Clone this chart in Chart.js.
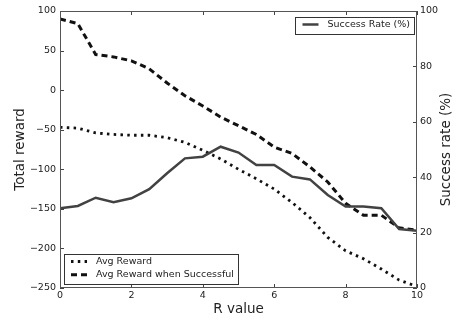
<!DOCTYPE html>
<html>
<head>
<meta charset="utf-8">
<script src="https://cdn.jsdelivr.net/npm/chart.js@4"></script>
<style>
  html, body { margin: 0; padding: 0; background: #fff; }
  #wrap { width: 454px; height: 320px; }
</style>
</head>
<body>
<div id="wrap"><canvas id="myChart" width="454" height="320"></canvas></div>
<script>
// values
const rValues = [0, 0.5, 1, 1.5, 2, 2.5, 3, 3.5, 4, 4.5, 5, 5.5, 6, 6.5, 7, 7.5, 8, 8.5, 9, 9.5, 10];
const avgReward = [-47, -48, -54, -56, -57, -57, -60, -66, -76, -87, -100, -112, -125, -142, -161, -186, -203, -213, -226, -240, -248];
const avgRewardSuccess = [90, 84, 45, 42, 37, 27, 9, -7, -20, -34, -45, -56, -72, -80, -97, -116, -143, -158, -158, -174, -177];
const successRate = [28.8, 29.6, 32.6, 31, 32.4, 35.7, 41.4, 46.8, 47.4, 51, 48.9, 44.4, 44.4, 40.2, 39.2, 33.6, 29.4, 29.4, 28.8, 21.3, 20.7];

const xTicks = [0, 2, 4, 6, 8, 10];
const rewardTicks = [-250, -200, -150, -100, -50, 0, 50, 100];
const rateTicks = [0, 20, 40, 60, 80, 100];
const rateTitle = "Success rate (%)";

const FONT = "'DejaVu Sans', sans-serif";
const TXT = "#222";
const SMALL = 9.5;
const BIG = 13.5;

function toPoints(ys) {
  return rValues.map((x, i) => ({ x: x, y: ys[i] }));
}
function minus(v) {
  return String(v).replace("-", "\u2212");
}

// frame, inside ticks, right title and the two legend boxes
const decor = {
  id: "decor",
  afterDraw(chart) {
    const ctx = chart.ctx;
    const a = chart.chartArea;
    const sx = chart.scales.x, sy = chart.scales.y, sy2 = chart.scales.y2;
    ctx.save();
    ctx.strokeStyle = "#444";
    ctx.lineWidth = 1;
    ctx.beginPath();
    xTicks.forEach((t) => {
      const px = Math.round(sx.getPixelForValue(t)) + 0.5;
      ctx.moveTo(px, a.bottom); ctx.lineTo(px, a.bottom - 4);
      ctx.moveTo(px, a.top); ctx.lineTo(px, a.top + 4);
    });
    rewardTicks.forEach((t) => {
      const py = Math.round(sy.getPixelForValue(t)) + 0.5;
      ctx.moveTo(a.left, py); ctx.lineTo(a.left + 4, py);
    });
    rateTicks.forEach((t) => {
      const py = Math.round(sy2.getPixelForValue(t)) + 0.5;
      ctx.moveTo(a.right, py); ctx.lineTo(a.right - 4, py);
    });
    ctx.stroke();
    ctx.strokeStyle = "#555";
    ctx.strokeRect(Math.round(a.left) + 0.5, Math.round(a.top) + 0.5,
      Math.round(a.right - a.left) - 1, Math.round(a.bottom - a.top) - 1);

    // right axis title, reading bottom to top
    ctx.save();
    ctx.translate(446, (a.top + a.bottom) / 2);
    ctx.rotate(-Math.PI / 2);
    ctx.font = BIG + "px " + FONT;
    ctx.fillStyle = TXT;
    ctx.textAlign = "center";
    ctx.textBaseline = "middle";
    ctx.fillText(rateTitle, 0, 0);
    ctx.restore();

    ctx.font = SMALL + "px " + FONT;
    const drawBox = (sets, left, top) => {
      let w = 0;
      sets.forEach((d) => { w = Math.max(w, ctx.measureText(d.label).width); });
      const bw = 32 + w + 4, bh = 3 + sets.length * 13.5;
      if (left < 0) left = a.right - 3 - bw;
      if (top < 0) top = a.bottom - 4.5 - bh;
      ctx.fillStyle = "#fff";
      ctx.fillRect(left, top, bw, bh);
      ctx.strokeStyle = "#333";
      ctx.lineWidth = 1;
      ctx.setLineDash([]);
      ctx.strokeRect(Math.round(left) + 0.5, Math.round(top) + 0.5, Math.round(bw), Math.round(bh));
      sets.forEach((d, i) => {
        const cy = top + 8 + i * 13.3;
        ctx.beginPath();
        ctx.strokeStyle = d.borderColor;
        ctx.lineWidth = d.borderWidth;
        ctx.setLineDash(d.borderDash || []);
        ctx.moveTo(left + 7, cy);
        ctx.lineTo(left + 23, cy);
        ctx.stroke();
        ctx.setLineDash([]);
        ctx.fillStyle = TXT;
        ctx.textBaseline = "middle";
        ctx.textAlign = "left";
        ctx.fillText(d.label, left + 32, cy);
      });
    };
    const ds = chart.data.datasets;
    drawBox([ds[0]], -1, a.top + 5.5);
    drawBox([ds[1], ds[2]], a.left + 4, -1);
    ctx.restore();
  }
};

var ctx = document.getElementById("myChart").getContext("2d");
var myChart = new Chart(ctx, {
  type: "line",
  data: {
    datasets: [
      {
        label: "Success Rate (%)",
        data: toPoints(successRate),
        yAxisID: "y2",
        borderColor: "#424242",
        borderWidth: 2.5,
      },
      {
        label: "Avg Reward",
        data: toPoints(avgReward),
        yAxisID: "y",
        borderColor: "#111",
        borderWidth: 2.8,
        borderDash: [2.5, 4.3],
      },
      {
        label: "Avg Reward when Successful",
        data: toPoints(avgRewardSuccess),
        yAxisID: "y",
        borderColor: "#111",
        borderWidth: 3,
        borderDash: [6, 4],
      },
    ],
  },
  options: {
    responsive: false,
    animation: false,
    devicePixelRatio: 1,
    elements: {
      point: { radius: 0 },
      line: { tension: 0, fill: false, borderJoinStyle: "miter" },
    },
    layout: { padding: { top: 11, right: 0, bottom: 0, left: 0 } },
    plugins: {
      legend: { display: false },
      tooltip: { enabled: false },
    },
    scales: {
      x: {
        type: "linear",
        min: 0,
        max: 10,
        afterBuildTicks: (s) => { s.ticks = xTicks.map((v) => ({ value: v })); },
        afterFit: (s) => { s.height = 32; },
        grid: { display: false, drawTicks: false },
        border: { display: false },
        ticks: { padding: 2, color: TXT, font: { family: FONT, size: SMALL }, maxRotation: 0 },
        title: { display: true, text: "R value", color: TXT, font: { family: FONT, size: BIG }, padding: { top: 2, bottom: 2 } },
      },
      y: {
        position: "left",
        min: -250,
        max: 100,
        afterBuildTicks: (s) => { s.ticks = rewardTicks.map((v) => ({ value: v })); },
        afterFit: (s) => { s.width = 60; },
        grid: { display: false, drawTicks: false },
        border: { display: false },
        ticks: { padding: 4, color: TXT, font: { family: FONT, size: SMALL }, callback: (v) => minus(v) },
        title: { display: true, text: "Total reward", color: TXT, font: { family: FONT, size: BIG }, padding: { top: 12, bottom: 12 } },
      },
      y2: {
        position: "right",
        min: 0,
        max: 100,
        afterBuildTicks: (s) => { s.ticks = rateTicks.map((v) => ({ value: v })); },
        afterFit: (s) => { s.width = 37; },
        grid: { display: false, drawTicks: false },
        border: { display: false },
        ticks: { padding: 3, color: TXT, font: { family: FONT, size: SMALL } },
        title: { display: false },
      },
    },
  },
  plugins: [decor],
});
</script>
</body>
</html>
